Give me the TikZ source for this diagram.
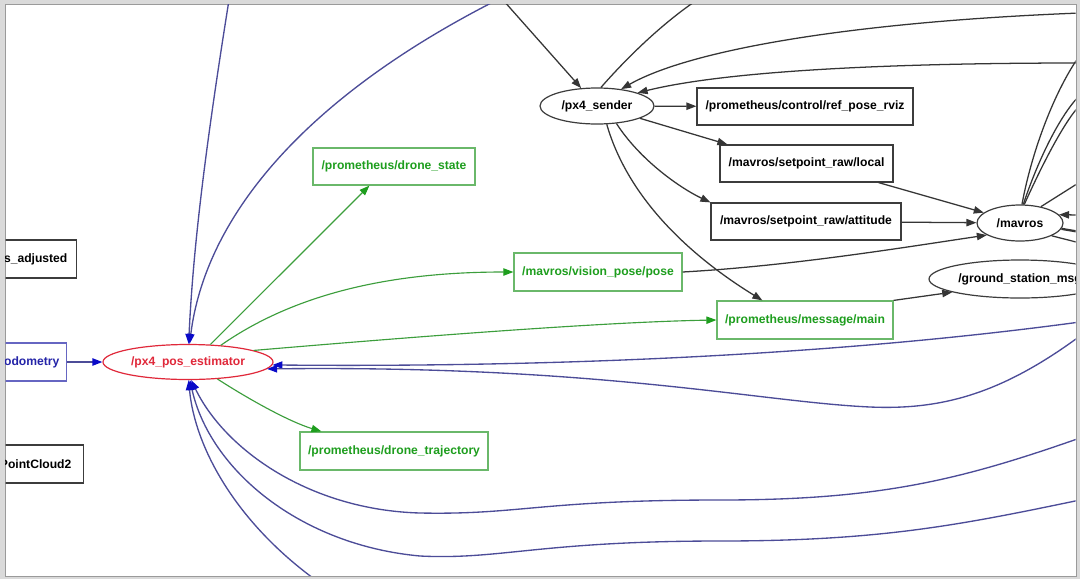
\documentclass[tikz,border=0pt]{standalone}
\usepackage{fontspec}
\setmainfont{Liberation Sans}
\usetikzlibrary{arrows.meta,shapes.geometric}
\definecolor{edgeblack}{HTML}{353535}
\definecolor{boxgray}{HTML}{3C3C3C}
\definecolor{tgreen}{HTML}{1E9E1E}
\definecolor{bgreen}{HTML}{6AB86A}
\definecolor{egreen}{HTML}{3C9E3C}
\definecolor{eblue}{HTML}{4C4C98}
\definecolor{ablue}{HTML}{0A0AC8}
\definecolor{tblue}{HTML}{2424A8}
\definecolor{tred}{HTML}{E0283A}
\definecolor{framegray}{HTML}{DADADA}
\definecolor{framedark}{HTML}{9A9A9A}
\begin{document}
\begin{tikzpicture}[x=0.75pt,y=-0.75pt,
  lbl/.style={font=\fontsize{9.1}{11}\selectfont\bfseries, inner sep=0pt},
  topic/.style={lbl, rectangle, draw=boxgray, line width=0.9pt},
  gtopic/.style={lbl, rectangle, draw=bgreen, text=tgreen, line width=0.9pt},
  nodeell/.style={lbl, ellipse, draw=boxgray, line width=0.9pt},
  bk/.style={draw=edgeblack, line width=0.95pt},
  bka/.style={bk, -{Triangle[length=7.5pt,width=5.5pt]}},
  bl/.style={draw=eblue, line width=1pt, -{Triangle[length=7.5pt,width=5.5pt,color=ablue]}},
  gr/.style={draw=egreen, line width=0.85pt, -{Triangle[length=7.5pt,width=5.5pt,color=tgreen]}}]
\useasboundingbox (0,0) rectangle (1080,579);
\fill[framegray] (0,0) rectangle (1080,579);
\fill[white] (5,4) rectangle (1076,576);
\draw[framedark, line width=0.6pt] (5,4) rectangle (1076,576);
\begin{scope}
\clip (5.5,4.5) rectangle (1075.5,575.5);
% left column (cut off)
\node[topic, anchor=east, text width=100*0.75pt, align=right, inner xsep=9*0.75pt, minimum height=38*0.75pt] (sadj) at (77,259) {s\_adjusted};
\node[topic, draw=tblue!70, text=tblue, anchor=east, text width=100*0.75pt, align=right, inner xsep=7*0.75pt, minimum height=38*0.75pt] (odom) at (67,362) {odometry};
\node[topic, anchor=east, text width=100*0.75pt, align=right, inner xsep=12*0.75pt, minimum height=38*0.75pt] (pcl) at (84,464) {PointCloud2};
\node[topic, anchor=north east, minimum width=110*0.75pt, minimum height=38*0.75pt] (lbot) at (73,576) {};
% main nodes
\node[nodeell, draw=tred, text=tred, minimum width=170*0.75pt, minimum height=35*0.75pt] (pe) at (188,362) {/px4\_pos\_estimator};
\node[nodeell, minimum width=114*0.75pt, minimum height=36*0.75pt] (ps) at (597,106) {/px4\_sender};
\node[nodeell, minimum width=86*0.75pt, minimum height=36*0.75pt] (mv) at (1020,223) {/mavros};
\node[nodeell, minimum width=182*0.75pt, minimum height=38*0.75pt] (gs) at (1020,279) {/ground\_station\_msg};
\node[gtopic, minimum width=162*0.75pt, minimum height=37*0.75pt] (ds) at (394,166.5) {/prometheus/drone\_state};
\node[gtopic, minimum width=168*0.75pt, minimum height=38*0.75pt] (vp) at (598,272) {/mavros/vision\_pose/pose};
\node[gtopic, minimum width=176*0.75pt, minimum height=38*0.75pt] (mm) at (805,320) {/prometheus/message/main};
\node[gtopic, minimum width=188*0.75pt, minimum height=38*0.75pt] (dt) at (394,451) {/prometheus/drone\_trajectory};
\node[topic, minimum width=216*0.75pt, minimum height=37*0.75pt] (rv) at (805,106.5) {/prometheus/control/ref\_pose\_rviz};
\node[topic, minimum width=173*0.75pt, minimum height=37*0.75pt] (sl) at (806.5,163.5) {/mavros/setpoint\_raw/local};
\node[topic, minimum width=190*0.75pt, minimum height=37*0.75pt] (sa) at (806,221.5) {/mavros/setpoint\_raw/attitude};
% free ends outside the frame
\coordinate (t1) at (503,0);
\coordinate (t2) at (697,0);
\coordinate (r1) at (1080,13);
\coordinate (r2) at (1080,63);
\coordinate (m1) at (1080,55);
\coordinate (m2) at (1080,95);
\coordinate (m3) at (1080,105);
\coordinate (m4) at (1080,182);
\coordinate (m5) at (1080,215);
\coordinate (m6) at (1080,232);
\coordinate (m7) at (1080,243);
\coordinate (b1) at (229,0);
\coordinate (b2) at (497,0);
\coordinate (b3) at (1080,322);
\coordinate (b4) at (1080,336);
\coordinate (ba) at (1080,438);
\coordinate (bb) at (1080,500);
\coordinate (bc) at (330,590);
% black edges
\draw[bka] (t1) -- (ps);
\draw[bk] (ps.78) .. controls (625,60) and (660,25) .. (t2);
\draw[bka] (r1) .. controls (850,22) and (690,50) .. (ps.35);
\draw[bka] (r2) .. controls (900,63) and (730,70) .. (ps.18);
\draw[bka] (ps) -- (rv);
\draw[bka] (ps.-16) -- ([xshift=8*0.75pt]sl.north west);
\draw[bka] (ps.-42) .. controls (640,160) and (680,188) .. (sa.north west);
\draw[bka] (ps.-62) .. controls (630,205) and (700,262) .. ([xshift=46*0.75pt]mm.north west);
\draw[bka] ([xshift=-15*0.75pt]sl.south east) -- (mv);
\draw[bka] (sa) -- (mv);
\draw[bka] (vp.east) .. controls (790,266) and (900,248) .. (mv.-160);
\draw[bka] (mm.north east) -- (gs.-169);
\draw[bk] (mv.84) .. controls (1032,150) and (1055,90) .. (m1);
\draw[bk] (mv.80) .. controls (1038,160) and (1060,115) .. (m2);
\draw[bk] (mv.77) .. controls (1042,165) and (1064,122) .. (m3);
\draw[bk] (mv.38) -- (m4);
\draw[bka] (m5) -- (mv.12);
\draw[bk, line width=1.7pt] (mv.-8) -- (m6);
\draw[bk] (mv.-22) -- (m7);
% blue edges
\draw[bl] (odom) -- (pe);
\draw[bl] (b1) .. controls (205,150) and (193,250) .. (pe.88);
\draw[bl] (b2) .. controls (300,100) and (205,220) .. (pe.85);
\draw[bl] (b3) .. controls (800,360) and (500,367) .. (pe.-2);
\draw[bl] (b4) .. controls (1000,395) and (940,410) .. (870,407) .. controls (760,402) and (600,365) .. (pe.-5);
\draw[bl] (ba) .. controls (960,480) and (880,500) .. (720,500) .. controls (540,500) and (520,515) .. (420,513) .. controls (310,510) and (225,450) .. (pe.-80);
\draw[bl] (bb) .. controls (960,525) and (880,541) .. (720,541) .. controls (540,541) and (500,560) .. (420,556) .. controls (300,545) and (210,470) .. (pe.-84);
\draw[bl] (bc) .. controls (240,530) and (195,450) .. (pe.-88);
% green edges
\draw[gr] (pe.38) -- ([xshift=57*0.75pt]ds.south west);
\draw[gr] (pe.27) .. controls (300,290) and (400,272) .. (vp.west);
\draw[gr] (pe.10) .. controls (400,338) and (600,322) .. (mm.west);
\draw[gr] (pe.-30) .. controls (250,400) and (290,422) .. ([xshift=22*0.75pt]dt.north west);
\end{scope}
\end{tikzpicture}
\end{document}
